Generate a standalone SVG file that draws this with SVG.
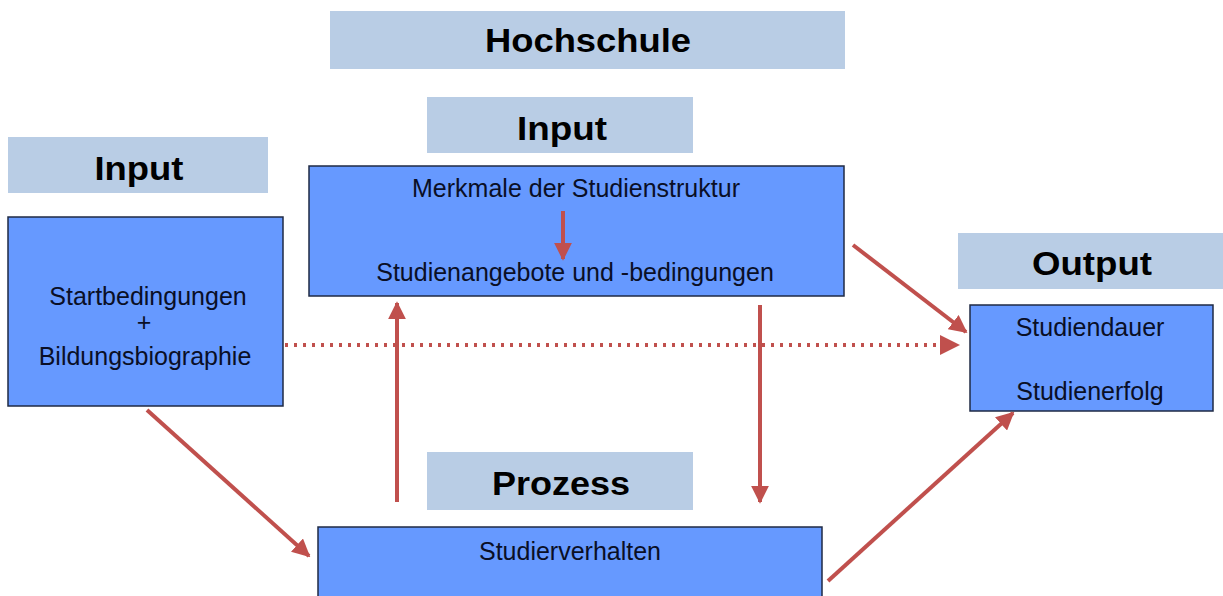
<svg xmlns="http://www.w3.org/2000/svg" width="1223" height="596" viewBox="0 0 1223 596">
<style>
.lbl{fill:#b9cde5}
.box{fill:#6699ff;stroke:#1f2a44;stroke-width:1.5}
.h{font-family:"Liberation Sans",Arial,sans-serif;font-weight:bold;font-size:34px;fill:#000;text-anchor:middle}
.t{font-family:"Liberation Sans",Arial,sans-serif;font-size:25px;fill:#0a0f26;text-anchor:middle}
.a{stroke:#c0504d;stroke-width:4;fill:none}
</style>
<defs>
<marker id="ah" viewBox="0 0 10 10" refX="9" refY="5" markerWidth="4.5" markerHeight="4.5" orient="auto" markerUnits="strokeWidth">
<path d="M0,0 L10,5 L0,10 z" fill="#c0504d"/>
</marker>
<marker id="ahd" viewBox="0 0 10 10" refX="9" refY="5" markerWidth="5" markerHeight="5" orient="auto" markerUnits="strokeWidth">
<path d="M0,0 L10,5 L0,10 z" fill="#c0504d"/>
</marker>
</defs>
<rect width="1223" height="596" fill="#fff"/>
<g id="hochschule"><rect class="lbl" x="330" y="11" width="515" height="58"/><text class="h" x="588" y="52" textLength="206" lengthAdjust="spacingAndGlyphs">Hochschule</text></g>
<g id="input-mid-label"><rect class="lbl" x="427" y="97" width="266" height="56"/><text class="h" x="562" y="140" textLength="90" lengthAdjust="spacingAndGlyphs">Input</text></g>
<g id="input-left-label"><rect class="lbl" x="8" y="137" width="260" height="56"/><text class="h" x="139" y="180" textLength="89" lengthAdjust="spacingAndGlyphs">Input</text></g>
<g id="output-label"><rect class="lbl" x="958" y="233" width="265" height="56"/><text class="h" x="1092" y="275" textLength="120" lengthAdjust="spacingAndGlyphs">Output</text></g>
<g id="prozess-label"><rect class="lbl" x="427" y="452" width="266" height="58"/><text class="h" x="561" y="495" textLength="138" lengthAdjust="spacingAndGlyphs">Prozess</text></g>
<g id="start"><rect class="box" x="8" y="217" width="275" height="189"/>
<text class="t" x="148" y="305">Startbedingungen</text><text class="t" x="144" y="331">+</text><text class="t" x="145" y="365">Bildungsbiographie</text></g>
<g id="struktur"><rect class="box" x="309" y="166" width="535" height="130"/>
<text class="t" x="576" y="197">Merkmale der Studienstruktur</text>
<text class="t" x="575" y="281">Studienangebote und -bedingungen</text></g>
<g id="output"><rect class="box" x="970" y="305" width="243" height="106"/>
<text class="t" x="1090" y="336">Studiendauer</text><text class="t" x="1090" y="400">Studienerfolg</text></g>
<g id="verhalten"><rect class="box" x="318" y="527" width="504" height="80"/>
<text class="t" x="570" y="560">Studierverhalten</text></g>
<g id="connectors">
<line class="a" x1="563" y1="211" x2="563" y2="259" marker-end="url(#ah)"/>
<line class="a" x1="147" y1="410" x2="309" y2="556" marker-end="url(#ah)"/>
<line class="a" x1="397" y1="502" x2="397" y2="303" marker-end="url(#ah)"/>
<line class="a" x1="760" y1="305" x2="760" y2="502" marker-end="url(#ah)"/>
<line class="a" x1="853" y1="245" x2="966" y2="332" marker-end="url(#ah)"/>
<line class="a" x1="828" y1="581" x2="1013" y2="413" marker-end="url(#ah)"/>
<line class="a" x1="285" y1="345" x2="958" y2="345" stroke-width="3" stroke-dasharray="3,6" marker-end="url(#ahd)"/>
</g>
</svg>
